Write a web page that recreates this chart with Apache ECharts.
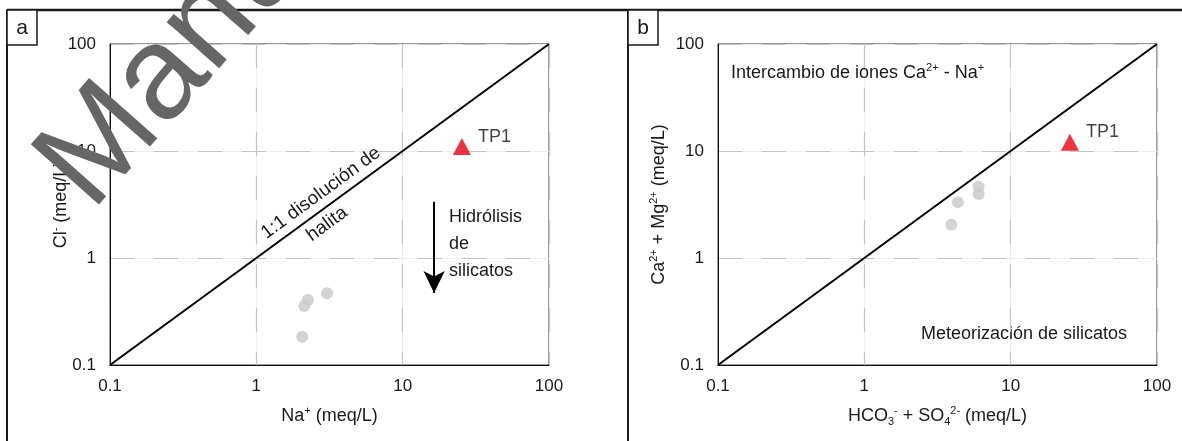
<!DOCTYPE html>
<html><head><meta charset="utf-8">
<script src="https://cdn.jsdelivr.net/npm/echarts@6/dist/echarts.min.js"></script>
<style>html,body{margin:0;padding:0;background:#fff}#c{width:1182px;height:441px}</style>
</head><body><div id="c"></div>
<script>
// ---- data ----
const tickLabels = ['0.1', '1', '10', '100'];
// panel a: Na+ vs Cl- (meq/L)
const naA = [2.06, 2.13, 2.25, 3.04];
const clA = [0.184, 0.356, 0.405, 0.468];
const tp1A = [25.4, 11.0];
// panel b: HCO3- + SO4 2- vs Ca2+ + Mg2+ (meq/L)
const hco3so4B = [3.93, 4.36, 6.04, 6.04];
const camgB = [2.05, 3.32, 3.96, 4.64];
const tp1B = [25.4, 12.1];
// 1:1 reference line
const oneToOne = [0.1, 100];
// arrow "Hidrólisis de silicatos" (x, y start, y end)
const arrowX = 16.4, arrowFrom = 3.36, arrowTo = 0.47;

const FONT = '"Liberation Sans", Arial, sans-serif';
const chart = echarts.init(document.getElementById('c'), null, {renderer: 'canvas'});

function fmt(v) { return tickLabels[Math.round(Math.log10(v)) + 1]; }
const sup = {fontSize: 11, verticalAlign: 'top', lineHeight: 11, fontFamily: FONT, color: '#1a1a1a'};
const sub = {fontSize: 11, verticalAlign: 'bottom', lineHeight: 11, fontFamily: FONT, color: '#1a1a1a'};
const base = {fontSize: 18, lineHeight: 22, verticalAlign: 'middle', fontFamily: FONT, color: '#1a1a1a'};

function mainX(gi, name) {
  return {
    type: 'log', logBase: 10, min: 0.1, max: 100, gridIndex: gi, position: 'bottom', z: 2,
    axisLine: {show: true, onZero: false, lineStyle: {color: '#111', width: 1}},
    axisTick: {show: false},
    axisLabel: {formatter: fmt, fontSize: 17, fontFamily: FONT, color: '#1a1a1a', margin: 13},
    splitLine: {show: true, lineStyle: {color: '#c4c4c4', type: [24, 20], width: 1.2}},
    name: name, nameLocation: 'middle', nameGap: 40, nameMoveOverlap: false,
    nameTextStyle: {fontSize: 18, fontFamily: FONT, color: '#1a1a1a', rich: {b: base, sup: sup, sub: sub}}
  };
}
function mainY(gi, name, gap) {
  const a = mainX(gi, name);
  a.position = 'left';
  a.nameGap = gap; a.nameRotate = 90;
  a.axisLabel = {formatter: fmt, fontSize: 17, fontFamily: FONT, color: '#1a1a1a', margin: 14};
  return a;
}
function faint(gi, pos) {
  return {
    type: 'log', logBase: 10, min: 0.1, max: 100, gridIndex: gi, position: pos, z: 0,
    axisLine: {show: false}, axisTick: {show: false}, axisLabel: {show: false},
    splitLine: {show: true, lineStyle: {color: '#ededed', width: 1}}
  };
}
function zip(a, b) { return a.map((v, i) => [v, b[i]]); }

const grayDot = {type: 'scatter', symbol: 'circle', symbolSize: 12,
  itemStyle: {color: '#c8c8c8'}, z: 3};
const tri = (xi, yi, d) => ({type: 'scatter', xAxisIndex: xi, yAxisIndex: yi,
  symbol: 'triangle', symbolSize: [18, 17], itemStyle: {color: '#e8000f'}, data: [d], z: 4,
  label: {show: true, position: 'right', distance: 7, offset: [0, -10], formatter: 'TP1',
    fontSize: 18, fontFamily: FONT, color: '#111'}});
const diag = (xi, yi) => ({type: 'line', xAxisIndex: xi, yAxisIndex: yi, silent: true,
  data: [[oneToOne[0], oneToOne[0]], [oneToOne[1], oneToOne[1]]], showSymbol: false,
  lineStyle: {color: '#000', width: 2}, z: 2});

const option = {
  backgroundColor: '#fff',
  animation: false,
  grid: [
    {left: 110, top: 44, width: 439, height: 321, show: true, borderColor: '#333', borderWidth: 1, outerBoundsMode: 'none', containLabel: false},
    {left: 718, top: 44, width: 439, height: 321, show: true, borderColor: '#333', borderWidth: 1, outerBoundsMode: 'none', containLabel: false}
  ],
  xAxis: [
    mainX(0, '{b|Na}{sup|+}{b| (meq/L)}'),
    mainX(1, '{b|HCO}{sub|3}{sup|-}{b| + SO}{sub|4}{sup|2-}{b| (meq/L)}'),
    faint(0, 'top'), faint(1, 'top')
  ],
  yAxis: [
    mainY(0, '{b|Cl}{sup|-}{b| (meq/L)}', 38),
    mainY(1, '{b|Ca}{sup|2+}{b| + Mg}{sup|2+}{b| (meq/L)}', 48),
    faint(0, 'right'), faint(1, 'right')
  ],
  series: [
    diag(0, 0), diag(1, 1),
    Object.assign({}, grayDot, {xAxisIndex: 0, yAxisIndex: 0, data: zip(naA, clA)}),
    Object.assign({}, grayDot, {xAxisIndex: 1, yAxisIndex: 1, data: zip(hco3so4B, camgB)}),
    tri(0, 0, tp1A), tri(1, 1, tp1B),
    {type: 'line', xAxisIndex: 0, yAxisIndex: 0, data: [], silent: true,
      markLine: {silent: true, symbol: ['none', 'arrow'], symbolSize: [16, 22], label: {show: false},
        lineStyle: {color: '#000', width: 2, type: 'solid'},
        data: [[{coord: [arrowX, arrowFrom]}, {coord: [arrowX, arrowTo]}]]}}
  ]
};
chart.setOption(option);

// ---- annotations ----
const txt = (extra) => Object.assign({fontSize: 18, fontFamily: FONT, fill: '#1a1a1a'}, extra);
const ang = Math.atan2(107, 146.3);
chart.setOption({
  graphic: [
    // outer frame
    {type: 'line', shape: {x1: 7, y1: 10, x2: 1182, y2: 10}, style: {stroke: '#1a1a1a', lineWidth: 2.5}},
    {type: 'line', shape: {x1: 7, y1: 10, x2: 7, y2: 441}, style: {stroke: '#1a1a1a', lineWidth: 2}},
    {type: 'line', shape: {x1: 628, y1: 10, x2: 628, y2: 441}, style: {stroke: '#1a1a1a', lineWidth: 2}},
    {type: 'rect', shape: {x: 7, y: 10, width: 30, height: 35}, style: {fill: '#fff', stroke: '#1a1a1a', lineWidth: 1.5}},
    {type: 'rect', shape: {x: 628, y: 10, width: 30, height: 35}, style: {fill: '#fff', stroke: '#1a1a1a', lineWidth: 1.5}},
    {type: 'text', x: 22, y: 28, style: txt({text: 'a', fontSize: 21, textAlign: 'center', textVerticalAlign: 'middle'})},
    {type: 'text', x: 643, y: 28, style: txt({text: 'b', fontSize: 21, textAlign: 'center', textVerticalAlign: 'middle'})},
    // panel a annotations
    {type: 'text', x: 449, y: 204, style: txt({text: 'Hidrólisis\nde\nsilicatos', lineHeight: 27})},
    {type: 'text', x: 321, y: 193, rotation: ang, z: 5,
      style: txt({text: '1:1 disolución de', fontSize: 19, textAlign: 'center', textVerticalAlign: 'middle'})},
    {type: 'text', x: 327, y: 224, rotation: ang, z: 5,
      style: txt({text: 'halita', fontSize: 19, textAlign: 'center', textVerticalAlign: 'middle'})},
    // panel b annotations
    {type: 'text', x: 731, y: 73, style: txt({text: '{b|Intercambio de iones Ca}{sup|2+}{b| - Na}{sup|+}',
      textVerticalAlign: 'middle', rich: {b: base, sup: sup}})},
    {type: 'text', x: 1127, y: 334, style: txt({text: 'Meteorización de silicatos', textAlign: 'right', textVerticalAlign: 'middle'})},
    // watermark
    {type: 'text', x: 114, y: 232, rotation: 0.848, z: 100,
      style: {text: 'Manuscript', font: '132px "Liberation Sans", Arial, sans-serif', fill: '#666666',
        textAlign: 'left', textVerticalAlign: 'bottom'}}
  ]
});
</script></body></html>
